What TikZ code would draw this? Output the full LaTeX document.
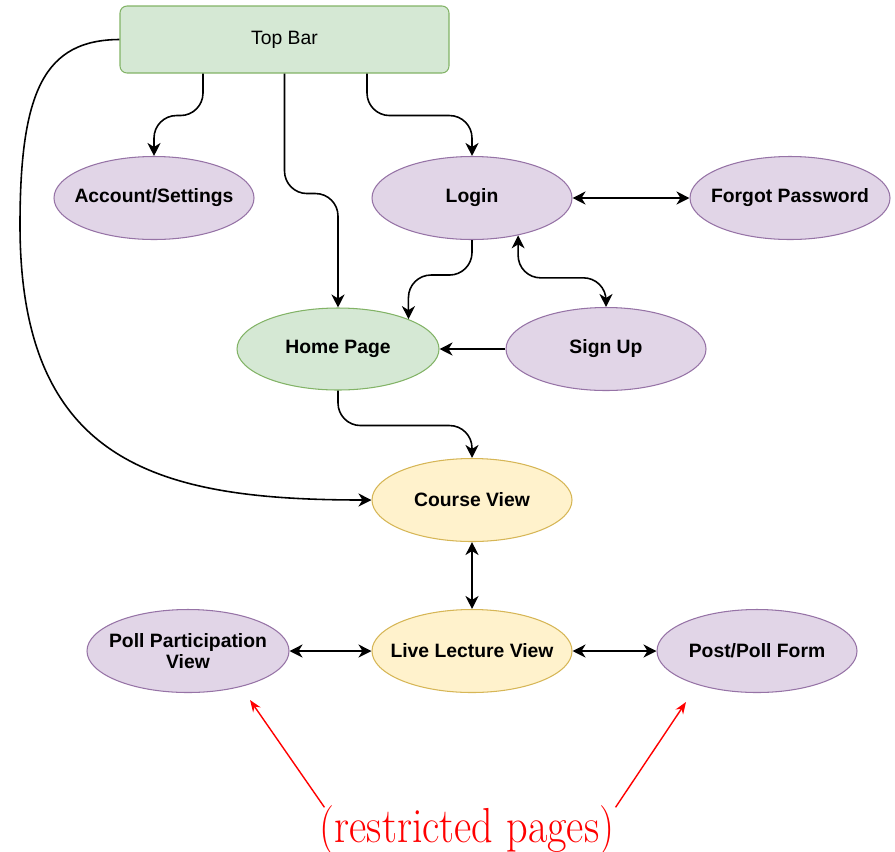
\documentclass[tikz,border=0pt]{standalone}
\usepackage{fontspec}
\newfontfamily\arial{Liberation Sans}
\usetikzlibrary{shapes.geometric,arrows.meta}
\definecolor{grfill}{HTML}{D5E8D4}
\definecolor{grline}{HTML}{82B366}
\definecolor{pufill}{HTML}{E1D5E7}
\definecolor{puline}{HTML}{9673A6}
\definecolor{yefill}{HTML}{FFF2CC}
\definecolor{yeline}{HTML}{D6B656}
\begin{document}
\begin{tikzpicture}[
    >={Stealth[length=2.6mm,width=2.6mm,inset=0.8mm]},
    page/.style={ellipse,draw,line width=0.6pt,inner xsep=-1cm,inner ysep=0pt,minimum width=4cm,minimum height=1.66cm,
        font=\arial\fontsize{11}{12}\selectfont\bfseries,align=center},
    purple page/.style={page,fill=pufill,draw=puline},
    green page/.style={page,fill=grfill,draw=grline},
    yellow page/.style={page,fill=yefill,draw=yeline},
    link/.style={line width=0.9pt,rounded corners=0.45cm},
    note/.style={red,line width=0.8pt,-{Stealth[length=2.4mm,width=1.8mm]}}
]
    \useasboundingbox (0,0) rectangle (17.9,-17.02);
    %% top bar
    \node[draw=grline,fill=grfill,line width=0.6pt,rounded corners=4pt,minimum width=6.58cm,minimum height=1.34cm,
        font=\arial\fontsize{11}{12}\selectfont] (top) at (5.69,-0.79) {Top Bar};
    %% pages
    \node[purple page] (acc) at (3.08,-3.96) {Account/Settings};
    \node[purple page] (login) at (9.44,-3.96) {Login};
    \node[purple page] (forgot) at (15.8,-3.96) {Forgot Password};
    \node[green page,minimum width=4.04cm,minimum height=1.64cm] (home) at (6.76,-6.98) {Home Page};
    \node[purple page] (signup) at (12.12,-6.98) {Sign Up};
    \node[yellow page] (course) at (9.44,-10.0) {Course View};
    \node[yellow page] (live) at (9.44,-13.02) {Live Lecture View};
    \node[purple page,minimum width=4.04cm] (poll) at (3.76,-13.02) {Poll Participation\\View};
    \node[purple page] (post) at (15.14,-13.02) {Post/Poll Form};
    %% links from the top bar
    \draw[link,->] ([xshift=-1.63cm]top.south) -- ++(0,-0.84) -| (acc.north);
    \draw[link,->] (top.south) -- ++(0,-2.4) -| (home.north);
    \draw[link,->] ([xshift=1.65cm]top.south) -- ++(0,-0.84) -| (login.north);
    \draw[line width=0.9pt,->] (top.west) .. controls (0.9,-0.8) and (0.4,-1.8) .. (0.4,-4.5)
        .. controls (0.4,-9.3) and (3.2,-10.0) .. (course.west);
    %% login area
    \draw[line width=0.9pt,<->] (login.east) -- (forgot.west);
    \draw[link,->] (login.south) -- ++(0,-0.7) -| (home.23);
    \draw[link,<->] (login.-39) -- ++(0,-0.85) -| (signup.north);
    \draw[line width=0.9pt,->] (signup.west) -- (home.east);
    %% courses
    \draw[link,->] (home.south) -- ++(0,-0.7) -| (course.north);
    \draw[line width=0.9pt,<->] (course.south) -- (live.north);
    \draw[line width=0.9pt,<->] (poll.east) -- (live.west);
    \draw[line width=0.9pt,<->] (live.east) -- (post.west);
    %% restricted note
    \node[red,font=\fontsize{28}{32}\selectfont,inner sep=0pt,anchor=base] (rest) at (9.34,-16.84)
        {\scalebox{0.86}[1]{(restricted pages)}};
    \coordinate (pollmark) at (5.0,-14.0);
    \coordinate (postmark) at (13.72,-14.04);
    \draw[note] ([xshift=0.1cm,yshift=-0.05cm]rest.north west) -- (pollmark);
    \draw[note] ([xshift=0.02cm,yshift=-0.05cm]rest.north east) -- (postmark);
\end{tikzpicture}
\end{document}
